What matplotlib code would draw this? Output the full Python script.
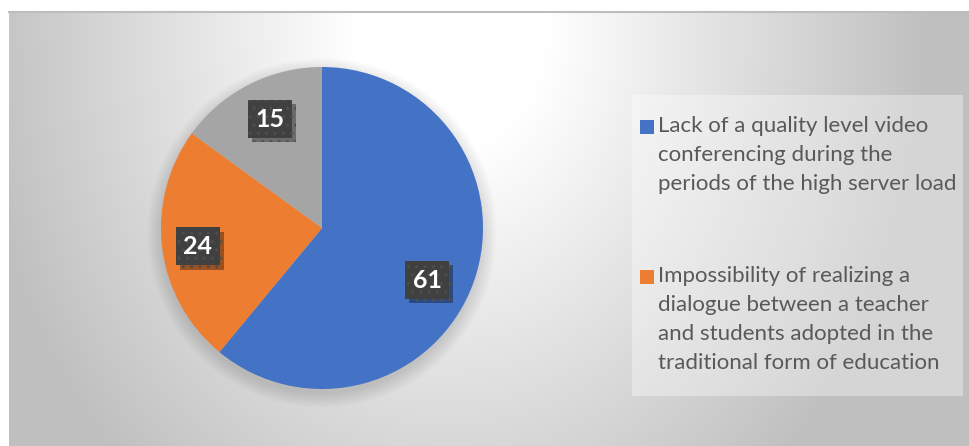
import numpy as np
import matplotlib.pyplot as plt
import matplotlib.patheffects as pe
from matplotlib.patches import Rectangle, Circle

labels = ['Lack of a quality level video\nconferencing during the\nperiods of the high server load',
          'Impossibility of realizing a\ndialogue between a teacher\nand students adopted in the\ntraditional form of education',
          'Other']
values = [61, 24, 15]
colors = ['#4472C4', '#ED7D31', '#A5A5A5']
label_dist = [0.73, 0.78, 0.75]
label_shift = [-6.6, 1.2, -1.5]   # degrees, nudge of the data labels

W, H = 970, 446
fig = plt.figure(figsize=(W / 100, H / 100), dpi=100)

# chart area background: radial grey gradient
bg = fig.add_axes([9 / W, 0, (W - 9) / W, (H - 12) / H])
xx, yy = np.meshgrid(np.arange(9, W), np.arange(12, H))
t = np.sqrt(((xx - 450) / 480.0) ** 2 + ((yy - 30) / 600.0) ** 2)
shade = 1 - 0.25 * np.clip((t - 0.2) / 0.8, 0, 1)
bg.imshow(np.dstack([shade] * 3), aspect='auto', extent=[0, 1, 0, 1], origin='upper')
bg.set_xlim(0, 1)
bg.set_ylim(0, 1)
bg.axis('off')
bg.plot([0, 1], [1, 1], color='#bdbdbd', lw=1.5, clip_on=False)

# pie
cx, cy, r = 322, 228, 161
ax = fig.add_axes([(cx - r) / W, (H - cy - r) / H, 2 * r / W, 2 * r / H])
for k in range(8):
    ax.add_patch(Circle((0, -0.03), 1.0 + 0.012 * k, color='black', alpha=0.016,
                        lw=0, zorder=0, clip_on=False))
wedges, _ = ax.pie(values, colors=colors, startangle=90, counterclock=False,
                   radius=1, wedgeprops=dict(linewidth=0), frame=False)
ax.set_xlim(-1, 1)
ax.set_ylim(-1, 1)
ax.axis('off')

for w, v, d, s in zip(wedges, values, label_dist, label_shift):
    ang = np.deg2rad((w.theta1 + w.theta2) / 2 + s)
    x, y = d * np.cos(ang), d * np.sin(ang)
    txt = ax.text(x, y, str(v), ha='center', va='center', fontsize=18, fontweight='bold',
                  family='Lato', color='white',
                  bbox=dict(boxstyle='square,pad=0.3', fc='#404040', ec='#4e4e4e',
                            lw=0, hatch='..'))
    txt.get_bbox_patch().set_path_effects([
        pe.SimplePatchShadow(offset=(3, -3), shadow_rgbFace='black', alpha=0.35),
        pe.Normal()])

# legend (only first two entries fit)
fig.patches.append(Rectangle((632 / W, (H - 396) / H), (963 - 632) / W, (396 - 95) / H,
                             transform=fig.transFigure, fc='white', alpha=0.35, ec='none'))
tops = [119, 269]
for lab, col, ty in zip(labels[:2], colors[:2], tops):
    fig.patches.append(Rectangle((640 / W, (H - ty - 15) / H), 14 / W, 14 / H,
                                 transform=fig.transFigure, fc=col, ec='none'))
    fig.text(658 / W, (H - ty + 3) / H, lab, ha='left', va='top', fontsize=16,
             family='Lato', color='#595959', linespacing=1.56)

fig.savefig('out.png', dpi=100)
